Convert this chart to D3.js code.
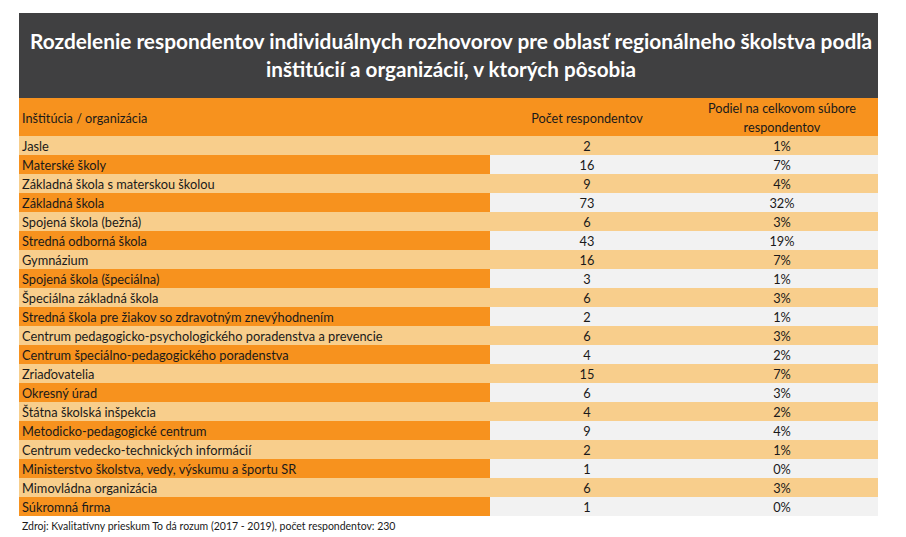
<!DOCTYPE html>
<html><head><meta charset="utf-8">
<script src="https://cdn.jsdelivr.net/npm/d3@7"></script>
<style>body{margin:0;background:#fff}svg{display:block}</style>
</head><body>
<script>
const titleLines = ["Rozdelenie respondentov individuálnych rozhovorov pre oblasť regionálneho školstva podľa", "inštitúcií a organizácií, v ktorých pôsobia"];
const headers = ["Inštitúcia / organizácia", "Počet respondentov", "Podiel na celkovom súbore respondentov"];
const categories = ["Jasle","Materské školy","Základná škola s materskou školou","Základná škola","Spojená škola (bežná)","Stredná odborná škola","Gymnázium","Spojená škola (špeciálna)","Špeciálna základná škola","Stredná škola pre žiakov so zdravotným znevýhodnením","Centrum pedagogicko-psychologického poradenstva a prevencie","Centrum špeciálno-pedagogického poradenstva","Zriaďovatelia","Okresný úrad","Štátna školská inšpekcia","Metodicko-pedagogické centrum","Centrum vedecko-technických informácií","Ministerstvo školstva, vedy, výskumu a športu SR","Mimovládna organizácia","Súkromná firma"];
const counts = [2,16,9,73,6,43,16,3,6,2,6,4,15,6,4,9,2,1,6,1];
const shares = ["1%","7%","4%","32%","3%","19%","7%","1%","3%","1%","3%","2%","7%","3%","2%","4%","1%","0%","3%","0%"];
const source = "Zdroj: Kvalitatívny prieskum To dá rozum (2017 - 2019), počet respondentov: 230";

const W = 906, H = 537;
const L = 19, R = 878, colSplit = 490;
const font = "Lato, 'Open Sans', sans-serif";
const svg = d3.select("body").append("svg").attr("width", W).attr("height", H);

// title box
svg.append("rect").attr("x", L).attr("y", 13).attr("width", R - L).attr("height", 85).attr("fill", "#404041");
const tl = [{t: titleLines[0], y: 49, w: 842}, {t: titleLines[1], y: 77, w: 370}];
svg.selectAll("text.title").data(tl).join("text").attr("class", "title")
  .attr("x", 451).attr("y", d => d.y).attr("text-anchor", "middle")
  .attr("fill", "#fff").attr("font-family", font).attr("font-weight", "bold").attr("font-size", 21)
  .attr("textLength", d => d.w).attr("lengthAdjust", "spacingAndGlyphs").text(d => d.t);

// header
svg.append("rect").attr("x", L).attr("y", 98).attr("width", R - L).attr("height", 38).attr("fill", "#F7921E");
const hf = 12.7;
svg.append("text").attr("x", 22).attr("y", 123).attr("font-family", font).attr("font-size", hf).attr("fill", "#1a1a1a").text(headers[0]);
svg.append("text").attr("x", 587).attr("y", 123).attr("text-anchor", "middle").attr("font-family", font).attr("font-size", hf).attr("fill", "#1a1a1a").text(headers[1]);
svg.append("text").attr("x", 782).attr("y", 113).attr("text-anchor", "middle").attr("font-family", font).attr("font-size", hf).attr("fill", "#1a1a1a").text("Podiel na celkovom súbore");
svg.append("text").attr("x", 782).attr("y", 132).attr("text-anchor", "middle").attr("font-family", font).attr("font-size", hf).attr("fill", "#1a1a1a").text("respondentov");

// rows
const y = d3.scaleBand().domain(categories).range([136, 136 + 19 * categories.length]).padding(0);
const rows = categories.map((c, i) => ({c, n: counts[i], p: shares[i], i}));
const g = svg.selectAll("g.row").data(rows).join("g").attr("class", "row");
g.append("rect").attr("x", L).attr("y", d => y(d.c)).attr("width", colSplit - L).attr("height", y.bandwidth())
  .attr("fill", d => d.i % 2 === 0 ? "#F8CE8C" : "#F7921E");
g.append("rect").attr("x", colSplit).attr("y", d => y(d.c)).attr("width", R - colSplit).attr("height", y.bandwidth())
  .attr("fill", d => d.i % 2 === 0 ? "#F8CE8C" : "#F2F2F2");
const tf = 12.8;
g.append("text").attr("x", 22).attr("y", d => y(d.c) + 14.5).attr("font-family", font).attr("font-size", tf).attr("fill", "#1a1a1a").text(d => d.c);
g.append("text").attr("x", 587).attr("y", d => y(d.c) + 14.5).attr("text-anchor", "middle").attr("font-family", font).attr("font-size", tf).attr("fill", "#1a1a1a").text(d => d.n);
g.append("text").attr("x", 782).attr("y", d => y(d.c) + 14.5).attr("text-anchor", "middle").attr("font-family", font).attr("font-size", tf).attr("fill", "#1a1a1a").text(d => d.p);

svg.append("text").attr("x", 22).attr("y", 530).attr("font-family", font).attr("font-size", 10.5).attr("fill", "#1a1a1a").text(source);
</script>
</body></html>
